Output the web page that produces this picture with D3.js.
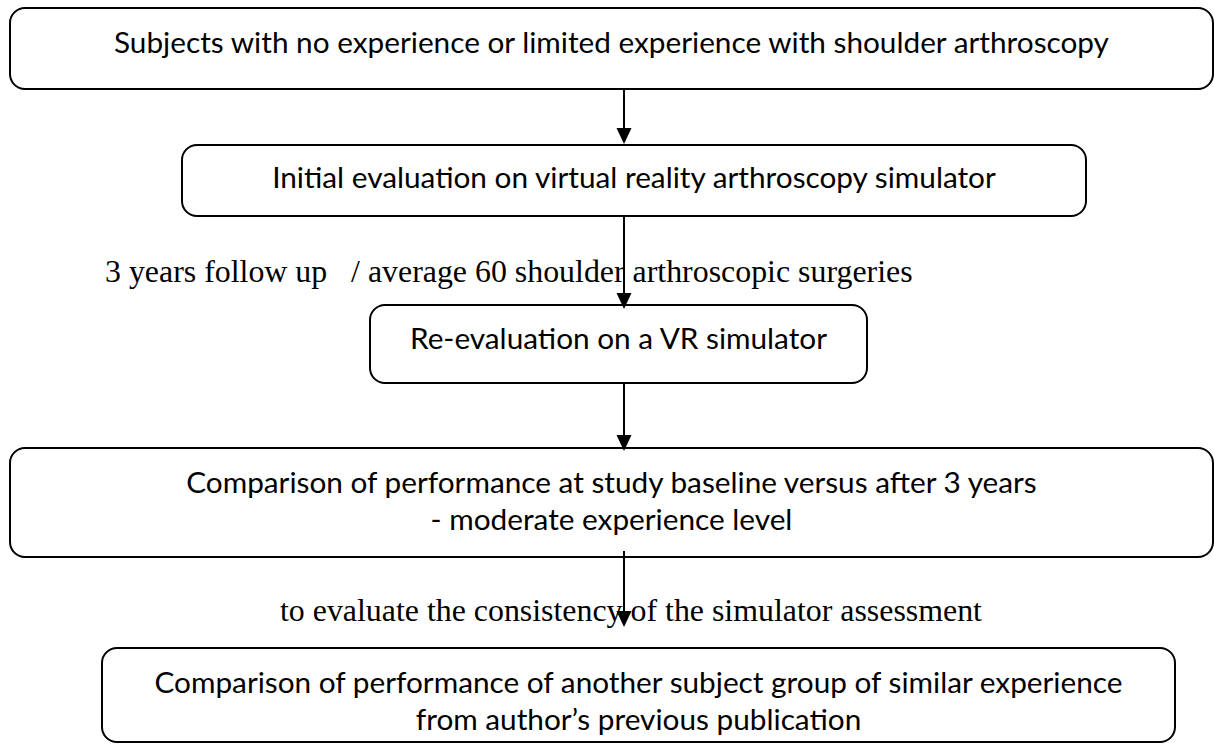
<!DOCTYPE html>
<html>
<head>
<meta charset="utf-8">
<script src="https://cdn.jsdelivr.net/npm/d3@7"></script>
<style>
    html, body { margin: 0; padding: 0; background: #fff; }
    svg { display: block; }
</style>
</head>
<body>
<svg id="flow" width="1214" height="744"></svg>
<script>
// step texts, one entry per box, one string per line
const stepLines = [
    ["Subjects with no experience or limited experience with shoulder arthroscopy"],
    ["Initial evaluation on virtual reality arthroscopy simulator"],
    ["Re-evaluation on a VR simulator"],
    ["Comparison of performance at study baseline versus after 3 years", "- moderate experience level"],
    ["Comparison of performance of another subject group of similar experience", "from author\u2019s previous publication"],
];
// notes written beside the connectors
const noteTexts = [
    "3 years follow up   / average 60 shoulder arthroscopic surgeries",
    "to evaluate the consistency of the simulator assessment",
];

// layout of the page (pixels)
const boxGeom = [
    { x0: 10,  y0: 8,   x1: 1213, y1: 89,  base: [53] },
    { x0: 182, y0: 145, x1: 1086, y1: 216, base: [188] },
    { x0: 370, y0: 305, x1: 867,  y1: 383, base: [349] },
    { x0: 10,  y0: 448, x1: 1213, y1: 557, base: [493, 530] },
    { x0: 102, y0: 648, x1: 1175, y1: 742, base: [693, 730] },
];
const arrowGeom = [
    { y0: 89,  y1: 144 },
    { y0: 216, y1: 309 },
    { y0: 383, y1: 451 },
    { y0: 551, y1: 627 },
];
const noteGeom = [
    { x: 105, y: 282, w: 808 },
    { x: 280, y: 621, w: 636 },
];
const arrowX = 624;

const svg = d3.select('#flow');
const sans = "Lato, 'Open Sans', sans-serif";
const serif = "'Liberation Serif', 'DejaVu Serif', serif";

// fit a font size so that the first line matches its width in the reference
function fitSize (family, text, width) {
    let t = svg.append('text')
        .attr('font-family', family)
        .attr('font-size', 30)
        .style('white-space', 'pre')
        .text(text);
    let w = t.node().getComputedTextLength();
    t.remove();
    return 30 * width / w;
}

const sansSize = fitSize(sans, stepLines[0][0], 995);
const serifSize = fitSize(serif, noteTexts[0], noteGeom[0].w);

const boxes = svg.selectAll('g.step')
    .data(stepLines)
    .join('g')
    .attr('class', 'step');

boxes.append('rect')
    .attr('x', (d, i) => boxGeom[i].x0)
    .attr('y', (d, i) => boxGeom[i].y0)
    .attr('width', (d, i) => boxGeom[i].x1 - boxGeom[i].x0)
    .attr('height', (d, i) => boxGeom[i].y1 - boxGeom[i].y0)
    .attr('rx', 15)
    .attr('ry', 15)
    .attr('fill', 'none')
    .attr('stroke', '#000')
    .attr('stroke-width', 2);

boxes.each(function (lines, i) {
    let g = boxGeom[i];
    d3.select(this).selectAll('text')
        .data(lines)
        .join('text')
        .attr('x', (g.x0 + g.x1) / 2)
        .attr('y', (d, j) => g.base[j])
        .attr('text-anchor', 'middle')
        .attr('font-family', sans)
        .attr('font-size', sansSize)
        .attr('fill', '#000')
        .text(d => d);
});

svg.selectAll('text.note')
    .data(noteTexts)
    .join('text')
    .attr('class', 'note')
    .attr('x', (d, i) => noteGeom[i].x)
    .attr('y', (d, i) => noteGeom[i].y)
    .attr('font-family', serif)
    .attr('font-size', serifSize)
    .attr('fill', '#000')
    .style('white-space', 'pre')
    .text(d => d);

// arrows drawn after the notes, they overlap the text like in the original
const head = 16, half = 7.5;
const arrows = svg.selectAll('g.arrow')
    .data(arrowGeom)
    .join('g')
    .attr('class', 'arrow');

arrows.append('line')
    .attr('x1', arrowX)
    .attr('x2', arrowX)
    .attr('y1', d => d.y0)
    .attr('y2', d => d.y1 - head + 1)
    .attr('stroke', '#000')
    .attr('stroke-width', 2);

arrows.append('path')
    .attr('d', d => {
        let p = d3.path();
        p.moveTo(arrowX - half, d.y1 - head);
        p.lineTo(arrowX + half, d.y1 - head);
        p.lineTo(arrowX, d.y1);
        p.closePath();
        return p.toString();
    })
    .attr('fill', '#000');
</script>
</body>
</html>
